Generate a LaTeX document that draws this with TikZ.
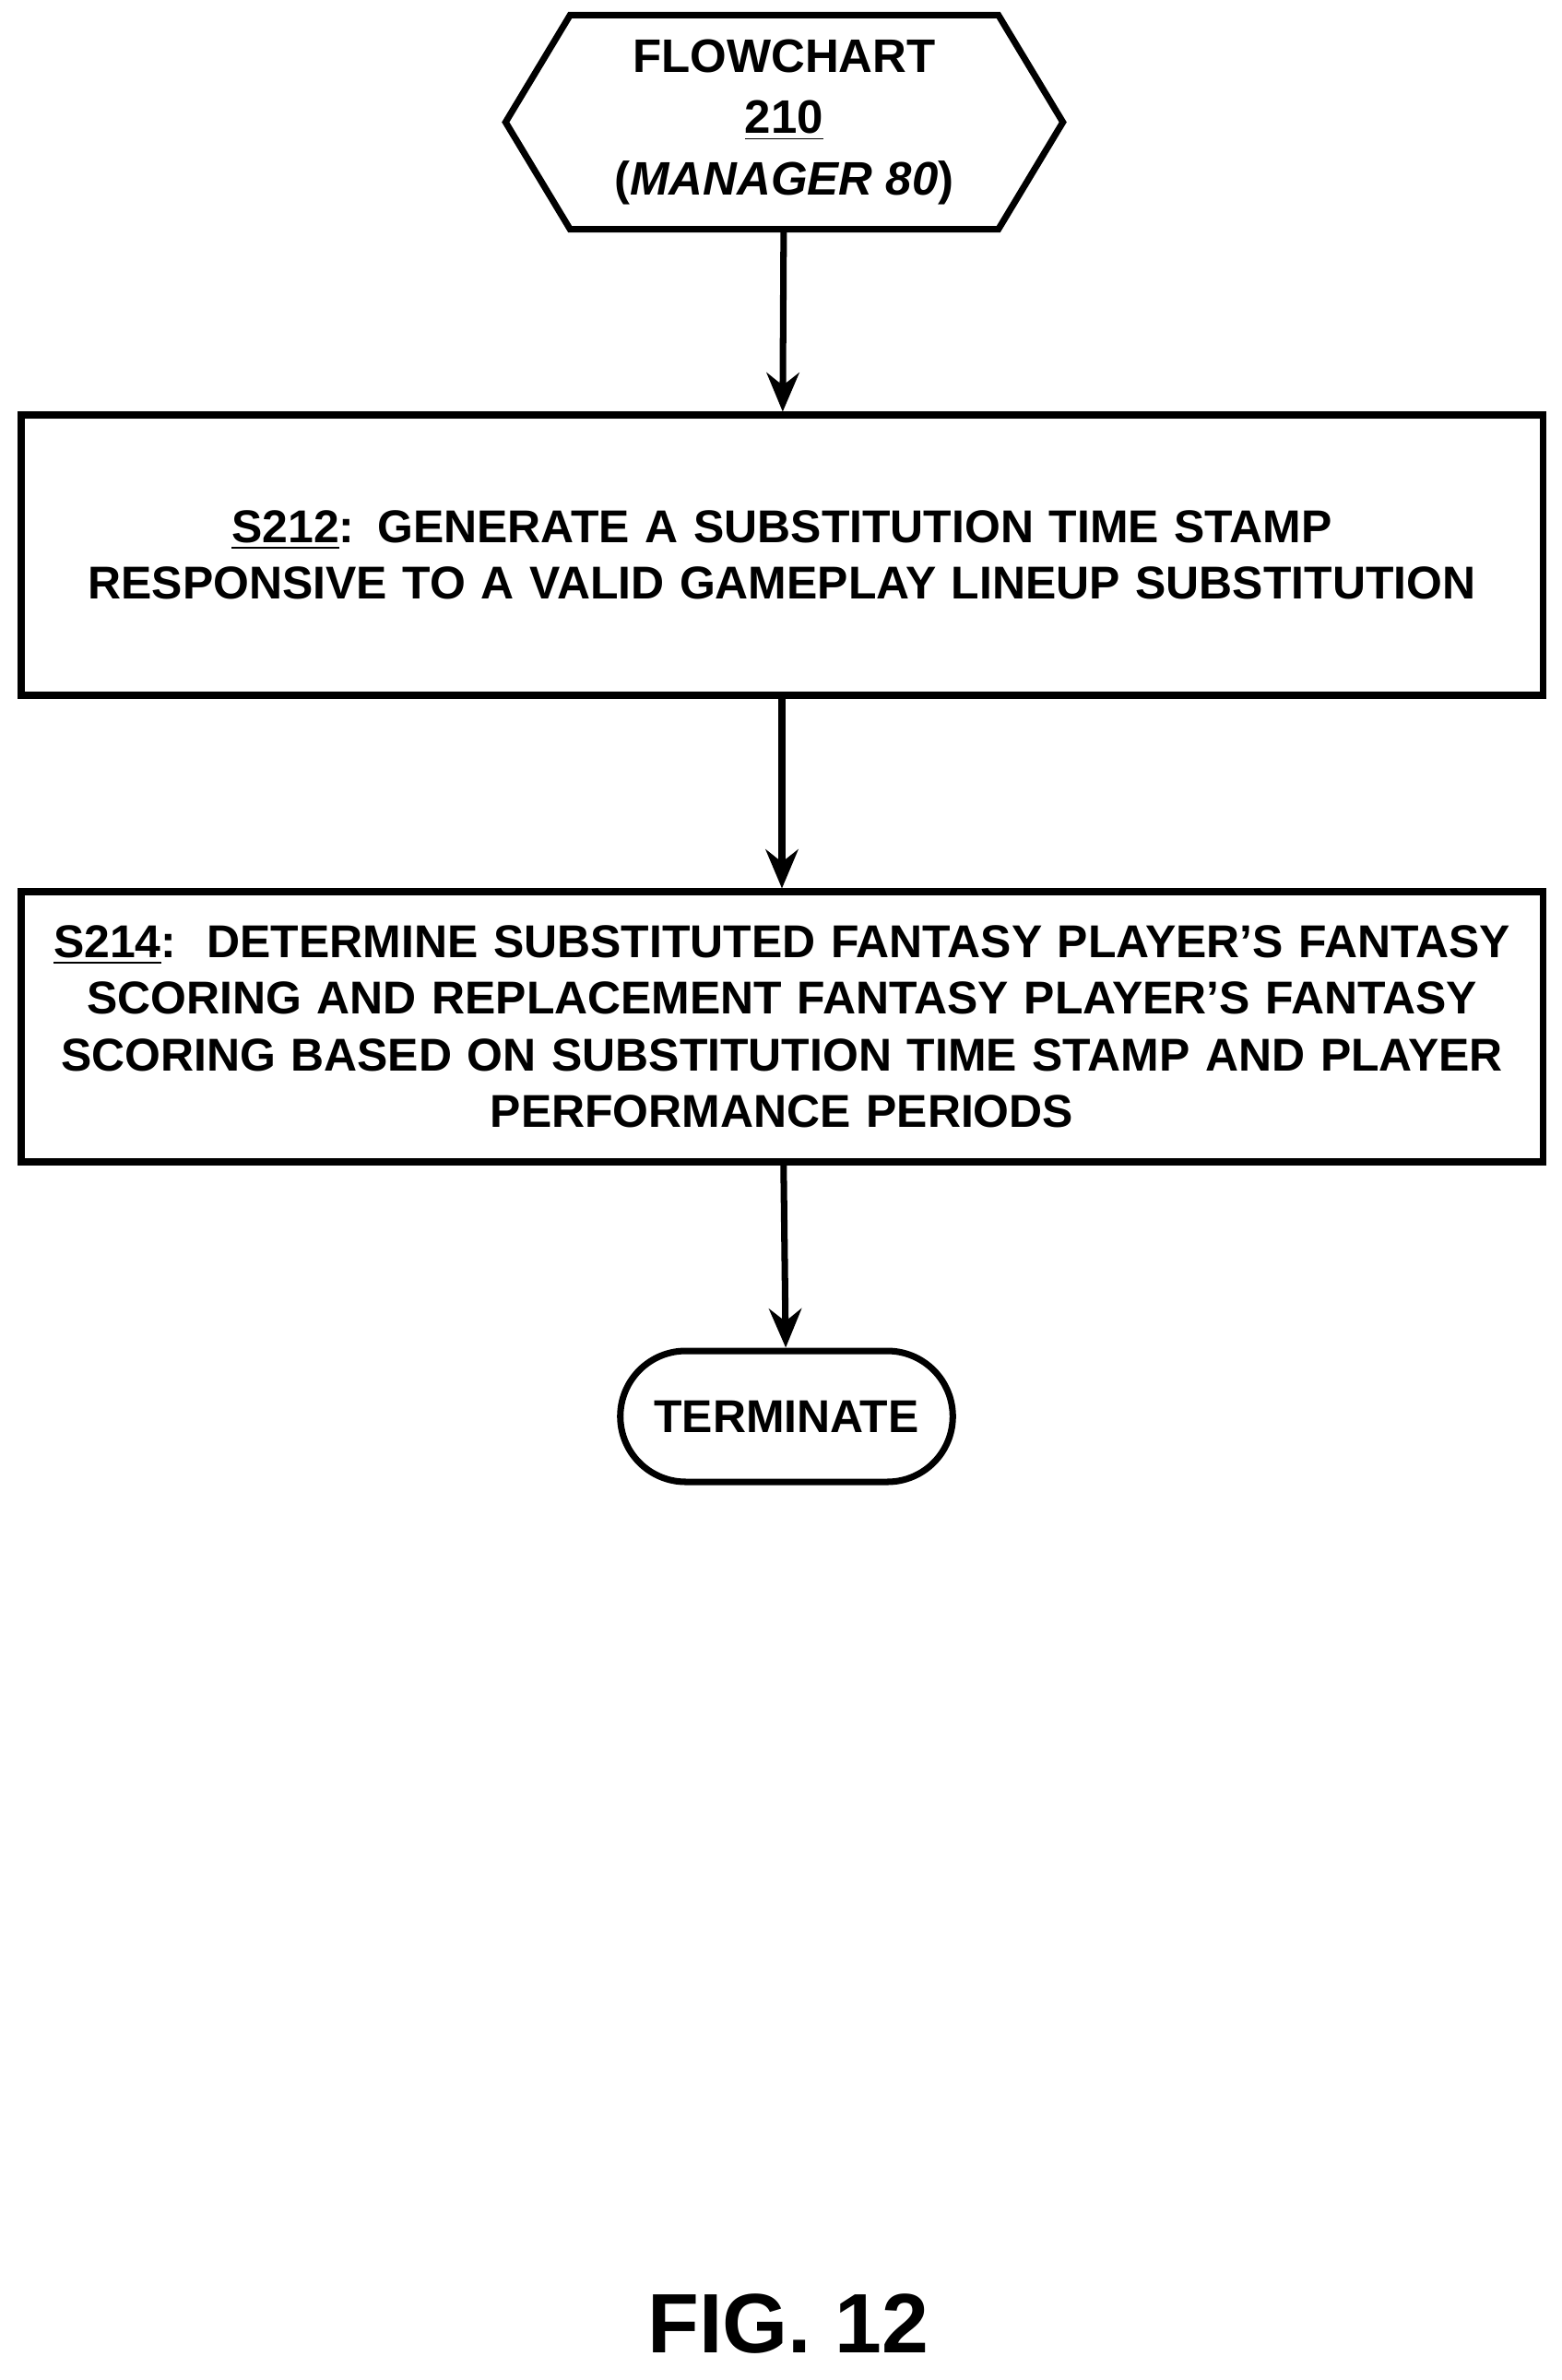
\documentclass[tikz,border=0pt]{standalone}
\usepackage{fontspec}
\setmainfont{Liberation Sans}
\usetikzlibrary{positioning}
\usetikzlibrary{shapes.misc}
\usetikzlibrary{arrows.meta}
\tikzset{
	process/.style={draw,line width=2pt,minimum width=16.5cm,text width=16.2cm,align=center,font=\fontsize{14.2}{17.5}\selectfont\bfseries},
	term/.style={draw,line width=2pt,rounded rectangle,minimum width=3.84cm,minimum height=1.42cm,font=\fontsize{14.2}{17.5}\selectfont\bfseries},
	flow/.style={line width=2pt,-{Stealth[length=12pt,width=10pt]}}
}
\begin{document}
\begin{tikzpicture}
	\useasboundingbox (0,0) rectangle (16.93,-25.81);
	
	% start
	\node[minimum width=6.03cm,minimum height=2.31cm,align=center,font=\fontsize{14.5}{19}\selectfont\bfseries] (start) at (8.505,-1.325) {FLOWCHART\\\underline{210}\\(\textit{MANAGER 80})};
	\draw[line width=2pt] (start.west) -- ([xshift=0.7cm]start.north west) -- ([xshift=-0.7cm]start.north east) -- (start.east) -- ([xshift=-0.7cm]start.south east) -- ([xshift=0.7cm]start.south west) -- cycle;
	
	% steps
	\node[process,minimum height=3.04cm] (s212) at (8.48,-6.02) {\underline{S212}: GENERATE A SUBSTITUTION TIME STAMP\\RESPONSIVE TO A VALID GAMEPLAY LINEUP SUBSTITUTION};
	\node[process,minimum height=2.93cm] (s214) at (8.48,-11.135) {\underline{S214}:\ \ DETERMINE SUBSTITUTED FANTASY PLAYER'S FANTASY\\SCORING AND REPLACEMENT FANTASY PLAYER'S FANTASY\\SCORING BASED ON SUBSTITUTION TIME STAMP AND PLAYER\\PERFORMANCE PERIODS};
	\node[term] (end) at (8.53,-15.36) {TERMINATE};
	
	\draw[flow] (start) -- (s212);
	\draw[flow] (s212) -- (s214);
	\draw[flow] (s214) -- (end);
	
	\node[font=\fontsize{26}{30}\selectfont\bfseries] (fig) at (8.55,-25.2) {FIG. 12};
\end{tikzpicture}
\end{document}
